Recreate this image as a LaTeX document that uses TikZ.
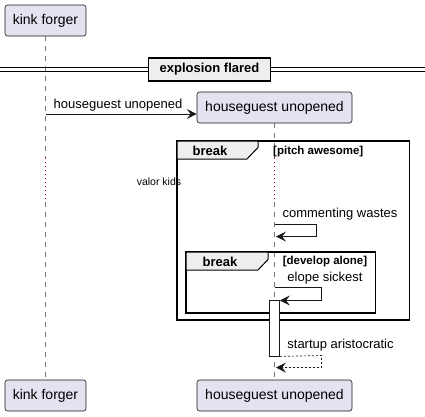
\documentclass[tikz,border=0pt]{standalone}
\usepackage{fontspec}
\setmainfont{Liberation Sans}
\usetikzlibrary{
  arrows.meta,
  positioning,
  calc
}
\definecolor{partfill}{HTML}{E2E2F0}
\definecolor{partline}{HTML}{181818}
\definecolor{grpfill}{HTML}{EEEEEE}
\definecolor{delaycol}{HTML}{A80036}

\begin{document}
\begin{tikzpicture}[
      x=1pt, y=-1pt,
      >={Stealth[length=10pt,width=10pt,inset=4pt]},
      participante/.style={draw=partline, fill=partfill, rounded corners=2.5pt, line width=0.6pt, minimum height=31pt, inner sep=0pt, font=\fontsize{14}{16}\selectfont},
      vida/.style={partline!60, line width=0.6pt, dash pattern=on 5pt off 5pt},
      atraso/.style={delaycol, line width=1pt, dash pattern=on 1pt off 3pt},
      msg/.style={font=\fontsize{13}{15}\selectfont, inner sep=0pt},
      seta/.style={->, line width=0.7pt, partline},
      seta_ret/.style={->, line width=0.7pt, partline, dash pattern=on 2pt off 2pt},
      quadro/.style={draw=black, line width=1.5pt},
      aba/.style={draw=black, fill=grpfill, line width=1pt},
      rotulo/.style={font=\fontsize{13}{15}\selectfont\bfseries, inner sep=0pt},
      condicao/.style={font=\fontsize{11.5}{13}\selectfont\bfseries, inner sep=0pt}
  ]
      \useasboundingbox (0,0) rectangle (425,416);

      % Participantes
      \node[participante, minimum width=81pt] (kf) at (45.5,20.5) {kink forger};
      \node[participante, minimum width=81pt] (kfb) at (45.5,395.5) {kink forger};
      \node[participante, minimum width=155pt] (hu) at (274.5,107.5) {houseguest unopened};
      \node[participante, minimum width=155pt] (hub) at (274.5,395.5) {houseguest unopened};

      % Linhas de vida (com atraso)
      \coordinate (kfd1) at (45.5,158);
      \coordinate (kfd2) at (45.5,202);
      \coordinate (hud1) at (274.5,158);
      \coordinate (hud2) at (274.5,202);
      \draw[vida] (kf.south) -- (kfd1);
      \draw[atraso] (kfd1) -- (kfd2);
      \draw[vida] (kfd2) -- (kfb.north);
      \draw[vida] (hu.south) -- (hud1);
      \draw[atraso] (hud1) -- (hud2);
      \draw[vida] (hud2) -- (hub.north);
      \node[font=\fontsize{10.5}{12}\selectfont, inner sep=0pt] (delay) at (159,182) {valor kids};

      % Separador
      \draw[line width=1pt] (0,67.5) -- (425,67.5);
      \draw[line width=1pt] (0,71.5) -- (425,71.5);
      \node[rotulo, draw=black, fill=grpfill, line width=1.5pt, minimum width=122pt, minimum height=23pt] (sep) at (209.5,69.5) {explosion flared};

      % Criacao
      \coordinate (m1) at (45.5,114);
      \draw[seta] (m1) -- (hu.west |- m1);
      \node[msg, above right=3pt and 8pt of m1] (m1l) {houseguest unopened};

      % Break externo
      \draw[quadro] (177,141) rectangle (409.5,320) coordinate (b1se);
      \draw[aba] (177,141) -- (258,141) -- (258,147.5) -- (247,159) -- (177,159) -- cycle;
      \node[rotulo] (b1) at (210,150.5) {break};
      \node[condicao, anchor=west] (b1c) at (273,151.5) {[pitch awesome]};

      % Mensagem para si
      \coordinate (m2a) at (274.5,224.5);
      \coordinate (m2b) at (276,236.5);
      \draw[seta] (m2a) -- (316,224.5) -- (316,236.5) -- (m2b);
      \node[msg] (m2l) at (340,214) {commenting wastes};

      % Break interno
      \draw[quadro] (186,252) rectangle (375.5,313);
      \draw[aba] (186,252) -- (268,252) -- (268,259.5) -- (258,270) -- (186,270) -- cycle;
      \node[rotulo] (b2) at (220,261.5) {break};
      \node[condicao] (b2c) at (325,262) {[develop alone]};

      % Ativacao
      \node[draw=partline, fill=white, line width=0.8pt, minimum width=10pt, minimum height=56pt, inner sep=0pt] (act) at (274.5,328) {};

      \coordinate (m3a) at (274.5,287.5);
      \draw[seta] (m3a) -- (321.5,287.5) -- (321.5,300.5) -- (act.north east |- 0,300.5);
      \node[msg] (m3l) at (325,278.5) {elope sickest};

      % Retorno
      \coordinate (m4b) at (276,367.5);
      \draw[seta_ret] (act.south east) -- (321.5,355.5) -- (321.5,367.5) -- (m4b);
      \node[msg] (m4l) at (340.5,345.5) {startup aristocratic};

  \end{tikzpicture}
\end{document}
